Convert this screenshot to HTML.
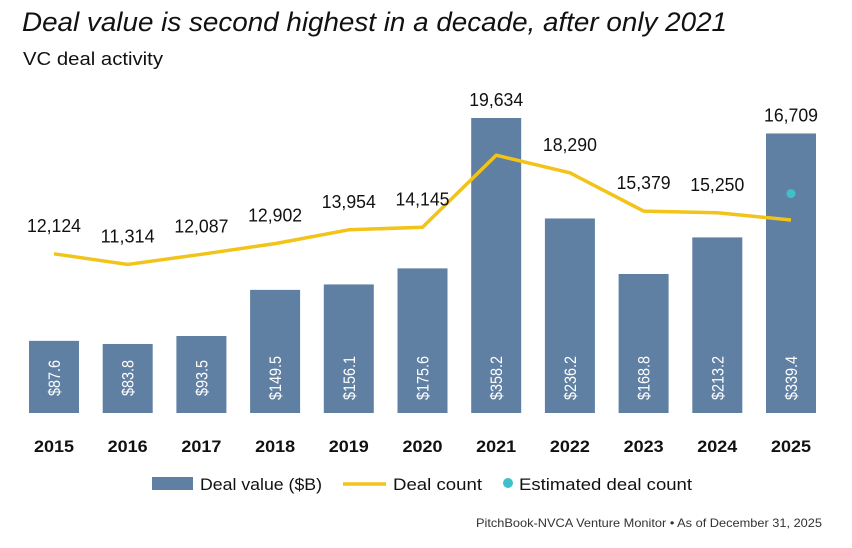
<!DOCTYPE html>
<html><head><meta charset="utf-8"><style>
body{margin:0;background:#fff;width:852px;height:543px;overflow:hidden;font-family:"Liberation Sans",sans-serif}
</style></head><body>
<svg id="c" width="852" height="543">
<text x="22" y="31" font-size="27" font-style="italic" fill="#111" textLength="705" lengthAdjust="spacingAndGlyphs">Deal value is second highest in a decade, after only 2021</text>
<text x="23" y="65" font-size="18" fill="#111" textLength="140" lengthAdjust="spacingAndGlyphs">VC deal activity</text>
<g id="bars"></g><g id="line"></g><g id="labels"></g>
<g>
<rect x="152" y="477" width="41" height="13" fill="#5f7fa3"/>
<text x="200" y="490" font-size="17" fill="#111" textLength="122" lengthAdjust="spacingAndGlyphs">Deal value ($B)</text>
<line x1="343" y1="484" x2="386" y2="484" stroke="#f2c318" stroke-width="3.5"/>
<text x="393" y="490" font-size="17" fill="#111" textLength="89" lengthAdjust="spacingAndGlyphs">Deal count</text>
<circle cx="508" cy="483" r="5" fill="#3fc0c8"/>
<text x="519" y="490" font-size="17" fill="#111" textLength="173" lengthAdjust="spacingAndGlyphs">Estimated deal count</text>
</g>
<text x="822" y="527" font-size="12" fill="#333" text-anchor="end" textLength="346" lengthAdjust="spacingAndGlyphs">PitchBook-NVCA Venture Monitor  •  As of December 31, 2025</text>
</svg>
<script>
const years=["2015","2016","2017","2018","2019","2020","2021","2022","2023","2024","2025"];
const dealValue=[87.6,83.8,93.5,149.5,156.1,175.6,358.2,236.2,168.8,213.2,339.4];
const dealCount=[12124,11314,12087,12902,13954,14145,19634,18290,15379,15250,14700];
const countLabels=["12,124","11,314","12,087","12,902","13,954","14,145","19,634","18,290","15,379","15,250","16,709"];
const estimatedCount=[null,null,null,null,null,null,null,null,null,null,16709];
const NS="http://www.w3.org/2000/svg";
const base=413;
const x=i=>54+i*73.7;
const yv=v=>base-v*0.8236;
const yc=v=>base-v*0.01313;
function mk(t,a,p){const e=document.createElementNS(NS,t);for(const k in a)e.setAttribute(k,a[k]);p.appendChild(e);return e;}
const gb=document.getElementById('bars'),gl=document.getElementById('line'),gt=document.getElementById('labels');
years.forEach((yr,i)=>{
 const r=mk('rect',{x:x(i)-25,y:yv(dealValue[i]),width:50,height:base-yv(dealValue[i]),fill:'#5f7fa3'},gb);
 
 
 const t=mk('text',{x:0,y:0,'font-size':17,fill:'#fff','text-anchor':'middle',textLength:dealValue[i]>=100?44:36,lengthAdjust:'spacingAndGlyphs',transform:`translate(${x(i)+6},378) rotate(-90)`},gb);
 t.textContent='$'+dealValue[i].toFixed(1);
 
 
 const yl=mk('text',{x:x(i),y:452,'font-size':17,fill:'#111','text-anchor':'middle','font-weight':'bold',textLength:40,lengthAdjust:'spacingAndGlyphs'},gt);
 yl.textContent=yr;
 
 
 const est=estimatedCount[i];
 const top=Math.min(yc(dealCount[i]),est!=null?yc(est):1e9);
 const bt=yv(dealValue[i]);
 const ly=bt<top?bt-12:top-22;
 const cl=mk('text',{x:x(i),y:ly,'font-size':18,fill:'#111','text-anchor':'middle',textLength:54,lengthAdjust:'spacingAndGlyphs'},gt);
 cl.textContent=countLabels[i];
 
 
 if(est!=null){
  const c=mk('circle',{cx:x(i),cy:yc(est),r:4.5,fill:'#3fc0c8'},gl);
  
  
 }
});
const p=mk('polyline',{points:dealCount.map((v,i)=>x(i)+','+yc(v)).join(' '),fill:'none',stroke:'#f2c318','stroke-width':3.5,'stroke-linejoin':'round'},gl);


gl.insertBefore(p,gl.firstChild);
</script>
</body></html>
